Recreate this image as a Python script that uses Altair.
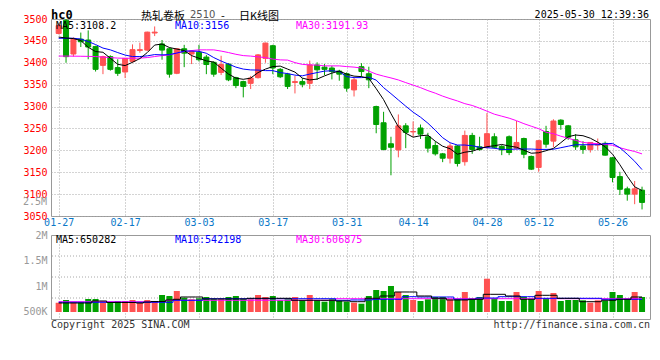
import altair as alt
import pandas as pd

# ---------------- data ----------------
dates = ["01-27",
         "02-05", "02-06", "02-07", "02-10", "02-11", "02-12", "02-13", "02-14",
         "02-17", "02-18", "02-19", "02-20", "02-21", "02-24", "02-25", "02-26", "02-27", "02-28",
         "03-03", "03-04", "03-05", "03-06", "03-07", "03-10", "03-11", "03-12", "03-13", "03-14",
         "03-17", "03-18", "03-19", "03-20", "03-21", "03-24", "03-25", "03-26", "03-27", "03-28",
         "03-31", "04-01", "04-02", "04-03", "04-07", "04-08", "04-09", "04-10", "04-11",
         "04-14", "04-15", "04-16", "04-17", "04-18", "04-21", "04-22", "04-23", "04-24", "04-25",
         "04-28", "04-29", "04-30", "05-06", "05-07", "05-08", "05-09",
         "05-12", "05-13", "05-14", "05-15", "05-16", "05-19", "05-20", "05-21", "05-22", "05-23",
         "05-26", "05-27", "05-28", "05-29", "05-30"]

opens = [3467, 3497, 3420, 3454, 3452, 3437, 3394, 3414, 3389, 3379,
         3403, 3428, 3429, 3468, 3443, 3432, 3376, 3432, 3420, 3424,
         3413, 3401, 3378, 3397, 3366, 3357, 3353, 3366, 3410, 3439,
         3385, 3374, 3355, 3357, 3353, 3395, 3390, 3388, 3381, 3375,
         3338, 3391, 3375, 3300, 3263, 3215, 3201, 3256, 3242, 3251,
         3231, 3211, 3192, 3182, 3210, 3174, 3234, 3208, 3207, 3231,
         3209, 3231, 3205, 3227, 3186, 3161, 3243, 3221, 3269, 3256,
         3224, 3210, 3202, 3212, 3216, 3183, 3140, 3112, 3100, 3109]
highs = [3490, 3500, 3458, 3469, 3474, 3439, 3416, 3417, 3408, 3411,
         3442, 3446, 3471, 3483, 3452, 3435, 3433, 3441, 3429, 3441,
         3418, 3403, 3416, 3399, 3368, 3359, 3370, 3420, 3446, 3441,
         3388, 3377, 3370, 3365, 3405, 3401, 3397, 3393, 3384, 3378,
         3366, 3399, 3391, 3302, 3288, 3231, 3282, 3262, 3266, 3259,
         3240, 3220, 3194, 3216, 3212, 3245, 3240, 3231, 3285, 3239,
         3212, 3234, 3267, 3229, 3188, 3224, 3256, 3271, 3271, 3258,
         3237, 3221, 3219, 3227, 3220, 3185, 3151, 3117, 3130, 3117]
lows = [3465, 3400, 3414, 3436, 3408, 3380, 3374, 3382, 3370, 3365,
        3400, 3423, 3427, 3461, 3407, 3366, 3374, 3390, 3397, 3403,
        3374, 3368, 3372, 3358, 3342, 3321, 3340, 3364, 3400, 3374,
        3365, 3340, 3330, 3344, 3340, 3361, 3372, 3362, 3359, 3334,
        3323, 3368, 3342, 3239, 3200, 3143, 3184, 3205, 3231, 3226,
        3195, 3188, 3173, 3170, 3163, 3165, 3192, 3199, 3204, 3204,
        3189, 3189, 3202, 3182, 3155, 3151, 3206, 3207, 3247, 3224,
        3201, 3192, 3195, 3201, 3188, 3127, 3098, 3085, 3077, 3065]
closes = [3485, 3414, 3454, 3448, 3436, 3385, 3414, 3385, 3376, 3410,
          3430, 3430, 3470, 3470, 3429, 3374, 3432, 3422, 3426, 3407,
          3396, 3374, 3396, 3361, 3348, 3346, 3365, 3418, 3445, 3388,
          3368, 3346, 3357, 3351, 3395, 3384, 3385, 3380, 3374, 3342,
          3361, 3380, 3361, 3259, 3202, 3207, 3256, 3241, 3243, 3237,
          3205, 3192, 3182, 3210, 3170, 3234, 3202, 3202, 3238, 3207,
          3201, 3195, 3218, 3191, 3157, 3222, 3214, 3267, 3259, 3230,
          3208, 3202, 3218, 3214, 3189, 3138, 3111, 3100, 3112, 3081]

ma5 = [3458.8, 3456.5, 3455.3, 3450.8, 3435.4, 3425.6, 3424.0, 3410.3, 3396.5, 3393.6,
       3401.1, 3409.6, 3423.3, 3440.5, 3442.8, 3434.8, 3431.3, 3427.9, 3416.4, 3410.3,
       3404.3, 3401.6, 3387.8, 3374.1, 3365.0, 3362.2, 3365.0, 3377.6, 3385.6, 3391.3,
       3392.4, 3385.6, 3378.7, 3365.0, 3360.8, 3362.7, 3370.0, 3376.4, 3381.0, 3374.1,
       3369.5, 3368.4, 3364.5, 3340.9, 3315.8, 3283.8, 3254.0, 3239.1, 3230.0, 3233.4,
       3234.6, 3220.8, 3209.4, 3203.7, 3191.1, 3195.7, 3198.0, 3203.7, 3208.3, 3210.5,
       3213.5, 3209.8, 3207.1, 3200.3, 3193.4, 3194.5, 3199.1, 3204.4, 3217.4, 3231.1,
       3235.0, 3233.4, 3227.7, 3218.6, 3208.3, 3191.1, 3167.1, 3140.8, 3116.7, 3108.2]
ma10 = [3456.0, 3456.0, 3456.0, 3454.2, 3448.5, 3441.6, 3433.6, 3429.5, 3423.3, 3417.6,
        3414.2, 3414.2, 3415.8, 3418.7, 3418.1, 3418.7, 3422.2, 3426.7, 3426.7, 3426.1,
        3421.7, 3411.9, 3403.9, 3397.0, 3390.1, 3385.6, 3383.7, 3383.3, 3382.1, 3382.1,
        3377.6, 3375.3, 3371.8, 3370.2, 3374.1, 3377.6, 3381.0, 3381.7, 3379.8, 3368.4,
        3366.1, 3366.1, 3367.2, 3360.4, 3343.2, 3329.5, 3315.1, 3300.9, 3287.2, 3275.7,
        3262.0, 3246.0, 3228.8, 3217.4, 3212.1, 3212.1, 3210.5, 3207.1, 3206.0, 3204.8,
        3202.1, 3202.1, 3203.0, 3203.0, 3203.0, 3202.1, 3202.1, 3202.5, 3206.0, 3209.4,
        3212.8, 3212.8, 3212.8, 3212.8, 3215.1, 3215.8, 3206.0, 3191.1, 3175.0, 3156.0]
ma30 = [3415.3, 3415.3, 3415.1, 3414.9, 3414.6, 3414.2, 3413.0, 3411.9, 3410.7, 3410.3,
        3410.3, 3410.7, 3411.9, 3414.2, 3416.4, 3418.0, 3422.2, 3425.6, 3427.9, 3429.5,
        3429.5, 3429.5, 3426.7, 3423.3, 3419.4, 3416.4, 3415.3, 3413.5, 3411.9, 3408.4,
        3406.6, 3406.1, 3400.4, 3396.3, 3395.2, 3394.7, 3392.9, 3392.9, 3392.9, 3391.3,
        3390.1, 3387.9, 3381.0, 3374.1, 3369.5, 3365.4, 3360.8, 3354.7, 3349.0, 3343.2,
        3336.4, 3330.6, 3323.8, 3318.1, 3312.8, 3306.6, 3302.5, 3296.3, 3289.5, 3282.6,
        3278.0, 3273.5, 3267.7, 3260.9, 3255.1, 3249.4, 3241.4, 3238.0, 3232.3, 3227.7,
        3222.7, 3218.1, 3216.3, 3215.1, 3213.5, 3211.7, 3205.9, 3201.4, 3197.3, 3191.9]

volumes = [681200, 733800, 681200, 681200, 753300, 753300, 681200, 681200, 714300, 714300,
           733800, 681200, 733800, 694800, 831200, 811700, 909100, 778600, 747400, 766900,
           792200, 747400, 747400, 792200, 811700, 747400, 747400, 831200, 792200, 811700,
           727900, 747400, 792200, 727900, 831200, 727900, 700700, 747400, 714300, 700700,
           681200, 661700, 811700, 928600, 909100, 1006500, 889600, 831200, 733800, 714300,
           747400, 792200, 792200, 747400, 747400, 889600, 747400, 792200, 1148700, 766900,
           714300, 714300, 889600, 792200, 747400, 909100, 766900, 870100, 714300, 733800,
           733800, 727900, 681200, 727900, 714300, 889600, 831200, 747400, 889600, 792200]
vma5 = [675300, 675300, 675300, 675300, 675300, 714300, 714300, 685100, 685100, 685100,
        685100, 675300, 694800, 704600, 704600, 733800, 747400, 792200, 792200, 792200,
        753300, 753300, 753300, 753300, 753300, 753300, 766900, 766900, 766900, 766900,
        766900, 766900, 727900, 727900, 727900, 727900, 727900, 727900, 714300, 714300,
        700700, 700700, 766900, 766900, 811700, 811700, 889600, 889600, 889600, 811700,
        811700, 766900, 766900, 733800, 733800, 733800, 747400, 747400, 844800, 844800,
        844800, 811700, 811700, 747400, 747400, 825300, 825300, 825300, 766900, 766900,
        766900, 700700, 700700, 700700, 727900, 727900, 747400, 747400, 792200, 792200]
vma10 = [689000, 689000, 689000, 689000, 689000, 689000, 689000, 689000, 689000, 689000,
         689000, 689000, 689000, 689000, 689000, 689000, 727900, 727900, 727900, 727900,
         759100, 759100, 759100, 759100, 759100, 759100, 759100, 759100, 759100, 759100,
         759100, 759100, 759100, 759100, 759100, 759100, 759100, 759100, 727900, 727900,
         733800, 733800, 733800, 747400, 747400, 747400, 747400, 798100, 798100, 792200,
         792200, 792200, 792200, 792200, 747400, 747400, 747400, 772700, 772700, 772700,
         798100, 798100, 798100, 798100, 798100, 766900, 766900, 766900, 766900, 766900,
         766900, 766900, 766900, 766900, 747400, 747400, 747400, 747400, 747400, 747400]
vma30 = [700700] * 15 + [727900] * 23 + [759100] * 42

tick_idx = [0, 9, 19, 29, 39, 48, 58, 65, 75]
price_ticks = [3050, 3100, 3150, 3200, 3250, 3300, 3350, 3400, 3450, 3500]
vol_ticks = [500000, 1000000, 1500000, 2000000]
vol_tick_labels = ["500K", "1M", "1.5M", "2M"]
price_ma_labels = ["MA5:3108.2", "MA10:3156", "MA30:3191.93"]
vol_ma_labels = ["MA5:650282", "MA10:542198", "MA30:606875"]

# ---------------- styling ----------------
RED = "#ff5252"
GREEN = "#00a000"
GRID = "#a8a8a8"
MONO = "DejaVu Sans Mono"
CJK = "Noto Sans CJK SC"
W = 599
PH = 197
VH = 84
PMIN, PMAX = 3050, 3500
VMIN, VMAX = 363600, 2000000

df = pd.DataFrame({
    "i": list(range(len(dates))), "date": dates,
    "o": opens, "h": highs, "l": lows, "c": closes, "v": volumes,
    "ma5": ma5, "ma10": ma10, "ma30": ma30,
    "vma5": vma5, "vma10": vma10, "vma30": vma30,
})
df["dir"] = ["up" if c >= o else "down" for o, c in zip(opens, closes)]

tick_labels = [dates[k] for k in tick_idx]
x_expr = "[" + ",".join(f"'{t}'" for t in tick_labels) + "][indexof([" + \
    ",".join(str(k) for k in tick_idx) + "], datum.value)]"
v_expr = "[" + ",".join(f"'{t}'" for t in vol_tick_labels) + "][indexof([" + \
    ",".join(str(k) for k in vol_ticks) + "], datum.value)]"

xscale = alt.Scale(domain=[-0.36, 79.4], nice=False, zero=False)
pscale = alt.Scale(domain=[PMIN, PMAX], nice=False, zero=False)
vscale = alt.Scale(domain=[VMIN, VMAX], nice=False, zero=False)
cscale = alt.Scale(domain=["up", "down"], range=[RED, GREEN])

grid_kw = dict(grid=True, gridColor=GRID, gridDash=[1, 2], gridWidth=1,
               ticks=False, domain=False, title=None)

x_price_axis = alt.Axis(values=tick_idx, labelExpr=x_expr, labelColor="#0a78c8",
                        labelFont=MONO, labelFontSize=10, labelPadding=1,
                        labelOverlap=False, labelFlush=False, **grid_kw)
x_vol_axis = alt.Axis(values=tick_idx, labels=False, **grid_kw)
p_axis = alt.Axis(values=price_ticks, format="d", labelColor="#ff0000", labelFont=MONO,
                  labelFontSize=10, labelPadding=4, labelOverlap=False, **grid_kw)
v_axis = alt.Axis(values=vol_ticks, labelExpr=v_expr, labelColor="#999999",
                  labelFont=MONO, labelFontSize=10, labelPadding=4, labelOverlap=False,
                  grid=False, ticks=False, domain=False, title=None)


def label(text, x, y, color, size=10, align="left", font=MONO, weight="normal",
          baseline="middle"):
    return alt.Chart(pd.DataFrame({"t": [text]})).mark_text(
        align=align, baseline=baseline, font=font, fontSize=size,
        color=color, fontWeight=weight
    ).encode(x=alt.value(x), y=alt.value(y), text="t:N")


color_enc = alt.Color("dir:N", scale=cscale, legend=None)
stroke_enc = alt.Stroke("dir:N", scale=cscale, legend=None)

pbase = alt.Chart(df).encode(x=alt.X("i:Q", scale=xscale, axis=x_price_axis))
wick = pbase.mark_rule(strokeWidth=1).encode(
    y=alt.Y("l:Q", scale=pscale, axis=p_axis), y2="h:Q", color=color_enc)
body = pbase.mark_bar(size=5, strokeWidth=1).encode(
    y=alt.Y("o:Q", scale=pscale, axis=p_axis), y2="c:Q", color=color_enc, stroke=stroke_enc)
l30 = pbase.mark_line(color="#ff00ff", strokeWidth=1).encode(
    y=alt.Y("ma30:Q", scale=pscale, axis=p_axis))
l10 = pbase.mark_line(color="#0000ff", strokeWidth=1).encode(
    y=alt.Y("ma10:Q", scale=pscale, axis=p_axis))
l5 = pbase.mark_line(color="#000000", strokeWidth=1).encode(
    y=alt.Y("ma5:Q", scale=pscale, axis=p_axis))

TOP = -9.5
price = alt.layer(
    wick, body, l30, l10, l5,
    label(price_ma_labels[0], 5, 6.5, "#000000"),
    label(price_ma_labels[1], 124, 6.5, "#0000ff"),
    label(price_ma_labels[2], 245, 6.5, "#ff00ff"),
    label("2.5M", -4, 183, "#999999", align="right"),
    label("hc0", 0, TOP, "#000000", size=12, weight="bold", baseline="top"),
    label("热轧卷板", 90, TOP + 1.5, "#000000", size=11, font=CJK, baseline="top"),
    label("2510", 139, TOP + 0.5, "#555555", size=10, font="DejaVu Sans", baseline="top"),
    label("-", 170, TOP + 1.5, "#000000", size=11, font=CJK, baseline="top"),
    label("日K线图", 188, TOP + 1.5, "#000000", size=11, font=CJK, baseline="top"),
    label("2025-05-30 12:39:36", 598, TOP + 0.5, "#000000", align="right", baseline="top"),
).properties(width=W, height=PH)

vbase = alt.Chart(df).encode(x=alt.X("i:Q", scale=xscale, axis=x_vol_axis))
vgrid = alt.Chart(pd.DataFrame({"g": [VMIN + k * (VMAX - VMIN) / 4 for k in (1, 2, 3)]})).mark_rule(
    color=GRID, strokeDash=[1, 2], strokeWidth=1).encode(y=alt.Y("g:Q", scale=vscale, axis=v_axis))
vbars = vbase.mark_bar(size=6).encode(
    y=alt.Y("v:Q", scale=vscale, axis=v_axis), y2=alt.datum(500000), color=color_enc)
vl30 = vbase.mark_line(color="#ff00ff", strokeWidth=1, interpolate="step").encode(
    y=alt.Y("vma30:Q", scale=vscale, axis=v_axis))
vl10 = vbase.mark_line(color="#0000ff", strokeWidth=1, interpolate="step").encode(
    y=alt.Y("vma10:Q", scale=vscale, axis=v_axis))
vl5 = vbase.mark_line(color="#000000", strokeWidth=1, interpolate="step").encode(
    y=alt.Y("vma5:Q", scale=vscale, axis=v_axis))

volume = alt.layer(
    vgrid, vbars, vl30, vl10, vl5,
    label(vol_ma_labels[0], 5, 5, "#000000"),
    label(vol_ma_labels[1], 124, 5, "#0000ff"),
    label(vol_ma_labels[2], 245, 5, "#ff00ff"),
    label("Copyright 2025 SINA.COM", 0, 90, "#333333"),
    label("http://finance.sina.com.cn", W, 90, "#333333", align="right"),
).properties(width=W, height=VH)

chart = alt.vconcat(price, volume, spacing=1).properties(
    padding={"left": 14, "top": 0, "right": 0, "bottom": 0}
).configure_view(stroke="#999999", strokeWidth=1)

chart.save("out.html", embed_options={"renderer": "svg", "actions": False})
